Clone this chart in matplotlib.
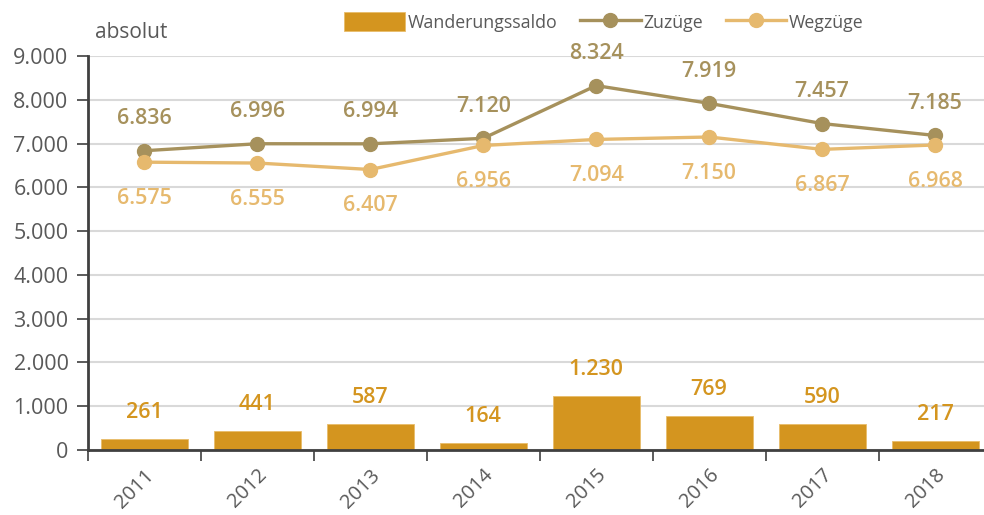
import matplotlib.pyplot as plt
from matplotlib.ticker import FuncFormatter, FixedLocator

plt.rcParams['font.family'] = ['Open Sans', 'DejaVu Sans']

jahre = ['2011', '2012', '2013', '2014', '2015', '2016', '2017', '2018']
zuzuege = [6836, 6996, 6994, 7120, 8324, 7919, 7457, 7185]
wegzuege = [6575, 6555, 6407, 6956, 7094, 7150, 6867, 6968]
saldo = [261, 441, 587, 164, 1230, 769, 590, 217]

c_saldo = '#D4951F'
c_zu = '#A6915C'
c_weg = '#E6B96E'
c_text = '#595959'


def de(v):
    # german thousands separator
    return f'{int(v):,}'.replace(',', '.')


fig = plt.figure(figsize=(9.84, 5.15), dpi=100)
ax = fig.add_axes([88 / 984, 65 / 515, 903.5 / 984, 394 / 515])

x = list(range(len(jahre)))
b = ax.bar(x, saldo, width=0.77, color=c_saldo, edgecolor='#E8BC6A', linewidth=0.6,
           label='Wanderungssaldo', zorder=2)
l1, = ax.plot(x, zuzuege, color=c_zu, lw=2.4, marker='o', ms=10, label='Zuzüge', zorder=3)
l2, = ax.plot(x, wegzuege, color=c_weg, lw=2.4, marker='o', ms=10, label='Wegzüge', zorder=3)

lab = dict(ha='center', va='center', fontsize=15.5, fontweight='semibold')
for i in x:
    ax.annotate(de(saldo[i]), (i, saldo[i]), xytext=(0, 19), textcoords='offset points',
                color=c_saldo, **lab)
    ax.annotate(de(zuzuege[i]), (i, zuzuege[i]), xytext=(0, 23), textcoords='offset points',
                color=c_zu, **lab)
    ax.annotate(de(wegzuege[i]), (i, wegzuege[i]), xytext=(0, -26), textcoords='offset points',
                color=c_weg, **lab)

ax.set_xlim(-0.5, len(jahre) - 0.5)
ax.set_ylim(0, 9000)
ax.yaxis.set_major_locator(FixedLocator(range(0, 9001, 1000)))
ax.yaxis.set_major_formatter(FuncFormatter(lambda v, p: de(v)))
ax.grid(axis='y', color='#D9D9D9', lw=1.5, zorder=0)
ax.set_axisbelow(True)

ax.set_xticks(x)
ax.set_xticklabels(jahre, rotation=45, ha='right', rotation_mode='anchor')
ax.set_xticks([i - 0.5 for i in x], minor=True)
ax.tick_params(axis='x', which='major', length=0, pad=11, labelsize=14.5, labelcolor=c_text)
ax.tick_params(axis='x', which='minor', length=8, width=1.2, color='#404040')
ax.tick_params(axis='y', length=8, width=1.2, color='#404040', labelsize=15.5,
               labelcolor=c_text, pad=6)

for s in ['top', 'right']:
    ax.spines[s].set_visible(False)
for s in ['left', 'bottom']:
    ax.spines[s].set_color('#404040')
    ax.spines[s].set_linewidth(2)

fig.text(95 / 984, 1 - 32 / 515, 'absolut', fontsize=15, color=c_text, va='center')

fig.legend([b, l1, l2], ['Wanderungssaldo', 'Zuzüge', 'Wegzüge'],
           loc='center', bbox_to_anchor=(604 / 984, 1 - 22 / 515), ncol=3, frameon=False,
           fontsize=12.8, labelcolor=c_text, handlelength=3.4, handletextpad=0.15,
           columnspacing=1.3, handleheight=1.2)

fig.savefig('out.png', dpi=100)
